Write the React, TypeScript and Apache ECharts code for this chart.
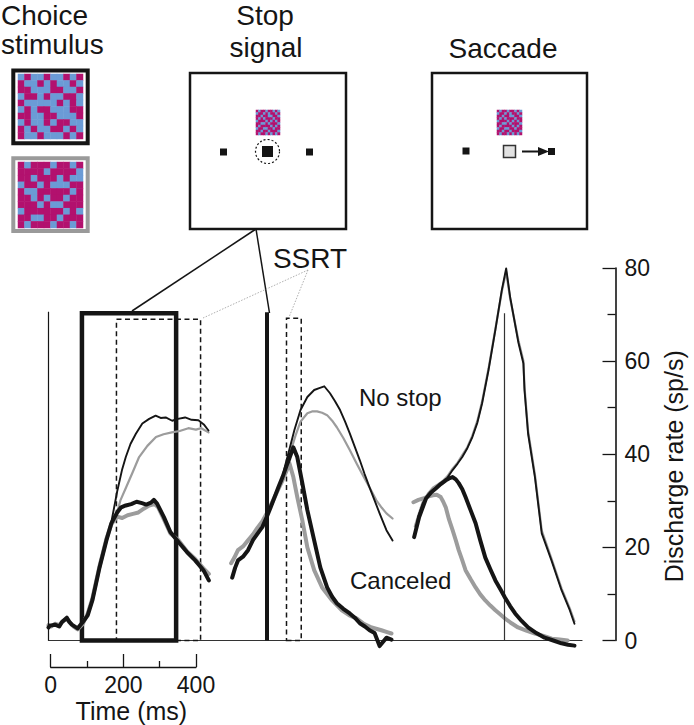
import React, { useEffect, useRef } from "react";
import * as echarts from "echarts";

// ---------------- data ----------------
// Rate axis (sp/s)
const RATE_MIN = 0;
const RATE_MAX = 80;
const RATE_STEP = 20;
// Time scale bar (ms)
const SCALE_MIN = 0;
const SCALE_MAX = 400;
const SCALE_STEP = 200;

// Alignment events (ms, on a common time line)
const TARGET_ONSET = 0;
const STOP_OFFSET = 607;
const SACCADE_OFFSET = 1269;
const MARKER_TOPS = [70.6, 70.5, 70.3]; // target, stop signal, saccade

// Analysis windows [start ms, end ms, top rate]
const WINDOW_EARLY = [93, 355, 70.3];
const WINDOW_LATE = [189, 423, 69.0];
const WINDOW_SSRT = [55, 96, 69.2]; // relative to stop signal

// ---- target-aligned curves [ms, sp/s]
const cancelTargetBlack = [
  [0, 2.8], [4, 3.2], [18, 3.4], [30, 3.0], [37, 3.9], [44, 4.4], [51, 4.9], [58, 4.0], [65, 3.4],
  [81, 2.6], [95, 3.9], [109, 5.4], [122, 8.6], [142, 15.7], [161, 21.5], [175, 25.2], [191, 27.5],
  [202, 28.6], [215, 29.0], [230, 29.3], [245, 29.8], [260, 29.5], [272, 29.2], [285, 29.6],
  [293, 30.2], [302, 29.4], [321, 26.5], [339, 23.3], [362, 21.1], [385, 19.0], [408, 17.2],
  [431, 15.1], [446, 12.9],
];
const cancelTargetGray = [
  [0, 3.3], [8, 3.0], [18, 3.6], [30, 3.3], [40, 4.2], [51, 4.6], [60, 3.8], [70, 3.0], [81, 2.4],
  [95, 3.5], [109, 5.8], [122, 9.0], [142, 16.0], [161, 21.8], [175, 25.0], [191, 26.6], [205, 26.3],
  [220, 26.9], [235, 27.2], [250, 27.5], [265, 28.3], [280, 29.0], [295, 29.3], [305, 28.6],
  [321, 26.0], [339, 23.0], [362, 21.5], [385, 19.2], [408, 17.5], [431, 15.5], [446, 14.3],
];
const noStopTargetBlack = [
  [142, 15.7], [161, 21.5], [175, 25.5], [191, 32.0], [205, 36.8], [215, 39.4], [228, 42.2],
  [243, 44.4], [261, 46.6], [280, 47.6], [298, 48.3], [312, 47.8], [326, 47.9], [344, 47.2],
  [360, 47.6], [380, 47.9], [398, 47.4], [417, 47.3], [432, 46.4], [445, 45.1],
];
const noStopTargetGray = [
  [175, 25.2], [191, 27.5], [200, 30.1], [216, 32.9], [235, 36.3], [252, 39.4], [275, 41.8],
  [299, 43.7], [320, 44.3], [343, 44.7], [365, 45.0], [389, 45.6], [410, 45.3], [425, 45.6],
  [445, 44.7],
];

// ---- stop-signal-aligned curves [ms from stop signal, sp/s]
const cancelStopBlack = [
  [-96, 13.5], [-88, 15.6], [-80, 17.2], [-66, 18.0], [-52, 19.4], [-38, 21.6], [-25, 23.0],
  [-12, 24.4], [0, 26.5], [11, 28.6], [22, 30.8], [33, 33.0], [44, 35.1], [55, 37.5], [63, 39.1],
  [74, 41.5], [85, 39.4], [99, 33.8], [113, 28.0], [132, 21.5], [149, 15.7], [168, 11.4],
  [182, 9.4], [195, 8.0], [213, 6.8], [231, 5.8], [245, 4.9], [259, 3.7], [273, 3.0], [286, 2.2],
  [300, 1.6], [314, -1.2], [333, 0.6], [347, 0.2],
];
const cancelStopGray = [
  [-99, 16.6], [-90, 17.8], [-80, 19.4], [-66, 20.2], [-52, 21.5], [-38, 22.8], [-25, 24.3],
  [-12, 25.6], [0, 27.3], [11, 29.0], [22, 30.8], [33, 32.6], [44, 34.4], [58, 37.0], [63, 38.1],
  [74, 35.1], [85, 30.8], [99, 25.8], [113, 20.0], [132, 15.1], [154, 11.4], [182, 8.6],
  [209, 6.5], [230, 5.4], [251, 4.7], [270, 3.6], [292, 2.8], [319, 2.2], [335, 1.8], [347, 1.5],
];
const noStopStopBlack = [
  [22, 30.8], [33, 33.0], [44, 35.1], [50, 37.2], [63, 41.0], [77, 45.2], [94, 49.5], [113, 52.3],
  [132, 53.8], [146, 54.2], [160, 54.6], [176, 53.1], [190, 51.4], [204, 49.5], [218, 47.0],
  [231, 44.5], [245, 41.6], [259, 38.7], [272, 35.8], [286, 32.9], [300, 30.1], [314, 27.3],
  [333, 23.7], [350, 21.5],
];
const noStopStopGray = [
  [33, 33.0], [44, 35.1], [58, 38.0], [68, 41.0], [80, 44.0], [94, 47.0], [113, 48.8], [126, 49.2],
  [140, 49.2], [154, 48.9], [168, 48.4], [182, 47.2], [195, 45.8], [213, 43.5], [231, 40.9],
  [250, 38.0], [270, 35.1], [288, 32.6], [305, 30.1], [320, 28.5], [333, 27.3], [350, 26.2],
];

// ---- saccade-aligned curves [ms from saccade, sp/s]
const noStopSaccBlack = [
  [-250, 23.0], [-246, 24.4], [-240, 26.8], [-228, 29.4], [-214, 31.2], [-200, 32.3], [-186, 33.0],
  [-173, 33.7], [-159, 35.0], [-145, 36.6], [-131, 38.0], [-118, 39.4], [-104, 41.3], [-90, 43.7],
  [-76, 46.8], [-63, 50.9], [-45, 58.1], [-26, 66.7], [-8, 75.3], [4, 79.9], [15, 73.8],
  [38, 64.0], [52, 59.5], [55, 53.8], [65, 44.4], [84, 35.1], [103, 23.0], [130, 17.2],
  [158, 10.8], [181, 6.5], [194, 3.6],
];
const noStopSaccGray = [
  [-250, 24.5], [-240, 27.0], [-228, 29.8], [-214, 31.5], [-200, 32.8], [-186, 33.5], [-173, 34.2],
  [-159, 35.3], [-145, 36.9], [-131, 38.2], [-118, 39.8], [-104, 41.5], [-90, 44.0], [-76, 47.2],
  [-63, 51.3], [-45, 58.4], [-26, 66.9], [-8, 75.0], [4, 79.2], [15, 73.5], [38, 64.5],
  [52, 60.0], [55, 54.5], [65, 45.0], [84, 35.6], [103, 23.6], [130, 17.6], [158, 11.2],
  [181, 6.9], [194, 4.1],
];
const cancelSaccBlack = [
  [-252, 22.2], [-238, 26.5], [-219, 30.5], [-205, 31.8], [-191, 32.7], [-178, 33.6], [-164, 34.4],
  [-155, 34.8], [-145, 35.1], [-136, 34.6], [-128, 33.8], [-118, 32.5], [-109, 30.8], [-95, 28.0],
  [-81, 25.2], [-68, 21.5], [-54, 17.8], [-40, 15.3], [-26, 12.9], [-12, 11.0], [1, 9.2],
  [15, 7.4], [29, 5.8], [47, 4.2], [65, 2.8], [88, 1.6], [111, 0.6], [135, 0.0], [158, -0.6],
  [176, -0.9], [194, -1.1],
];
const cancelSaccGray = [
  [-254, 29.7], [-240, 30.2], [-227, 30.5], [-214, 30.9], [-200, 31.2], [-189, 31.3], [-178, 30.8],
  [-171, 29.8], [-164, 28.6], [-155, 26.0], [-145, 23.7], [-136, 21.5], [-128, 19.4], [-118, 17.2],
  [-109, 15.1], [-95, 13.2], [-81, 11.4], [-68, 9.9], [-54, 8.6], [-40, 7.5], [-26, 6.5],
  [-12, 5.6], [1, 4.7], [19, 3.7], [37, 2.8], [60, 2.1], [84, 1.5], [108, 1.0], [131, 0.4],
  [153, 0.2], [175, 0.0],
];

// ---- stimulus patterns (1 = magenta, 0 = blue)
const STIM_A = [
  "0100100101",
  "1001010010",
  "1100011001",
  "0110100110",
  "1000001010",
  "0101100011",
  "1100110001",
  "0100101100",
  "1010011010",
  "1001000101",
];
const STIM_B = [
  "1011101101",
  "1111011110",
  "1101110100",
  "0110100011",
  "1001111101",
  "1101011011",
  "1110100111",
  "0111111010",
  "1100110111",
  "1011101101",
];
const STIM_SMALL = [
  "1011011010",
  "0110101101",
  "1101100110",
  "1010111011",
  "0111010101",
  "1100101110",
  "1011110101",
  "0110011011",
  "1101101110",
  "1011010101",
];

// ---------------- styles ----------------
const FONT = "'Liberation Sans', Arial, Helvetica, sans-serif";
const BLACK = "#151515";
const GRAY = "#9c9c9c";
const MAGENTA = "#b2116e";
const BLUE = "#6b9bd6";

const shift = (pts: number[][], off: number) => pts.map(([t, r]) => [t + off, r]);

const curve = (pts: number[][], off: number, color: string, width: number, z: number) => ({
  type: "line",
  xAxisIndex: 0,
  yAxisIndex: 0,
  data: shift(pts, off),
  symbol: "none",
  showSymbol: false,
  clip: false,
  silent: true,
  z,
  lineStyle: { color, width, join: "round", cap: "round" },
});

const patternData = (rows: string[]) =>
  rows.flatMap((row, y) => row.split("").map((c, x) => [x, y, Number(c)]));

const txt = (text: string, x: number, y: number, size: number, align = "center") => ({
  type: "text",
  x,
  y,
  silent: true,
  style: {
    text,
    fill: BLACK,
    fontSize: size,
    fontFamily: FONT,
    align,
    verticalAlign: "middle",
    textAlign: align,
    textVerticalAlign: "middle",
  },
});

const rect = (x: number, y: number, w: number, h: number, style: any) => ({
  type: "rect",
  silent: true,
  shape: { x, y, width: w, height: h },
  style,
});

const line = (x1: number, y1: number, x2: number, y2: number, style: any) => ({
  type: "line",
  silent: true,
  shape: { x1, y1, x2, y2 },
  style,
});

export default function App() {
  const ref = useRef<HTMLDivElement>(null);

  useEffect(() => {
    if (!ref.current) return;
    const chart = echarts.init(ref.current, null, { renderer: "svg" });

    const stimGrids = [
      { rows: STIM_A, left: 18, top: 74, w: 65, h: 65 },
      { rows: STIM_B, left: 18, top: 162, w: 65, h: 66 },
      { rows: STIM_SMALL, left: 256, top: 110, w: 24, h: 25 },
      { rows: STIM_SMALL, left: 497, top: 110, w: 25, h: 25 },
    ];
    const cells = (rows: string[]) => rows[0].split("").map((_, i) => String(i));

    const dashedArea = { color: "rgba(0,0,0,0)", borderColor: BLACK, borderWidth: 1.5, borderType: [5, 3.5] };

    const markerSeries = {
      type: "line",
      xAxisIndex: 0,
      yAxisIndex: 0,
      data: [],
      silent: true,
      z: 6,
      markLine: {
        silent: true,
        symbol: ["none", "none"],
        label: { show: false },
        data: [
          [
            { coord: [TARGET_ONSET, 0], lineStyle: { color: BLACK, width: 1.2, type: "solid" } },
            { coord: [TARGET_ONSET, MARKER_TOPS[0]] },
          ],
          [
            { coord: [STOP_OFFSET, 0], lineStyle: { color: BLACK, width: 4, type: "solid" } },
            { coord: [STOP_OFFSET, MARKER_TOPS[1]] },
          ],
          [
            { coord: [SACCADE_OFFSET, 0], lineStyle: { color: "#333", width: 1.2, type: "solid" } },
            { coord: [SACCADE_OFFSET, MARKER_TOPS[2]] },
          ],
        ],
      },
      markArea: {
        silent: true,
        label: { show: false },
        data: [
          [
            {
              coord: [WINDOW_EARLY[0], 0],
              itemStyle: { color: "rgba(0,0,0,0)", borderColor: BLACK, borderWidth: 4.5, borderType: "solid" },
            },
            { coord: [WINDOW_EARLY[1], WINDOW_EARLY[2]] },
          ],
          [
            { coord: [WINDOW_LATE[0], 0], itemStyle: dashedArea },
            { coord: [WINDOW_LATE[1], WINDOW_LATE[2]] },
          ],
          [
            { coord: [STOP_OFFSET + WINDOW_SSRT[0], 0], itemStyle: dashedArea },
            { coord: [STOP_OFFSET + WINDOW_SSRT[1], WINDOW_SSRT[2]] },
          ],
        ],
      },
    };

    const lineSeries = [
      curve(noStopTargetGray, TARGET_ONSET, GRAY, 2.2, 2),
      curve(noStopStopGray, STOP_OFFSET, GRAY, 2.2, 2),
      curve(noStopSaccGray, SACCADE_OFFSET, GRAY, 2.2, 2),
      curve(noStopTargetBlack, TARGET_ONSET, BLACK, 1.9, 3),
      curve(noStopStopBlack, STOP_OFFSET, BLACK, 1.9, 3),
      curve(noStopSaccBlack, SACCADE_OFFSET, BLACK, 1.9, 3),
      curve(cancelTargetGray, TARGET_ONSET, GRAY, 4, 4),
      curve(cancelStopGray, STOP_OFFSET, GRAY, 4, 4),
      curve(cancelSaccGray, SACCADE_OFFSET, GRAY, 4, 4),
      curve(cancelTargetBlack, TARGET_ONSET, BLACK, 4, 5),
      curve(cancelStopBlack, STOP_OFFSET, BLACK, 4, 5),
      curve(cancelSaccBlack, SACCADE_OFFSET, BLACK, 4, 5),
      markerSeries,
    ];

    const heatSeries = stimGrids.map((g, i) => ({
      type: "heatmap",
      xAxisIndex: i + 2,
      yAxisIndex: i + 2,
      data: patternData(g.rows),
      silent: true,
      itemStyle: { borderWidth: 0 },
      emphasis: { disabled: true },
    }));

    const firstHeat = lineSeries.length;

    const option: any = {
      animation: false,
      backgroundColor: "#ffffff",
      textStyle: { fontFamily: FONT },
      grid: [
        { left: 48.5, top: 268, width: 539, height: 372.5 },
        { left: 50.7, top: 620, width: 145.3, height: 47 },
        ...stimGrids.map((g) => ({ left: g.left, top: g.top, width: g.w, height: g.h })),
      ],
      xAxis: [
        {
          type: "value",
          gridIndex: 0,
          min: 0,
          max: 1484,
          axisLine: { show: true, onZero: false, lineStyle: { color: "#333", width: 1.2 } },
          axisTick: { show: false },
          axisLabel: { show: false },
          splitLine: { show: false },
        },
        {
          type: "value",
          gridIndex: 1,
          min: SCALE_MIN,
          max: SCALE_MAX,
          interval: SCALE_STEP,
          axisLine: { show: true, onZero: false, lineStyle: { color: BLACK, width: 1.3 } },
          axisTick: { show: true, inside: true, length: 13, lineStyle: { color: BLACK, width: 1.3 } },
          minorTick: { show: true, splitNumber: 2, length: 6, lineStyle: { color: BLACK, width: 1.3 } },
          axisLabel: { color: BLACK, fontSize: 23, fontFamily: FONT, margin: 6 },
          splitLine: { show: false },
          name: "Time (ms)",
          nameLocation: "middle",
          nameGap: 31,
          nameTextStyle: { color: BLACK, fontSize: 25, fontFamily: FONT, padding: [0, 0, 0, 16] },
        },
        ...stimGrids.map((g, i) => ({
          type: "category",
          gridIndex: i + 2,
          data: cells(g.rows),
          show: false,
        })),
      ],
      yAxis: [
        {
          type: "value",
          gridIndex: 0,
          position: "right",
          offset: 33.5,
          min: RATE_MIN,
          max: RATE_MAX,
          interval: RATE_STEP,
          axisLine: { show: true, onZero: false, lineStyle: { color: BLACK, width: 1.6 } },
          axisTick: { show: true, inside: true, length: 13, lineStyle: { color: BLACK, width: 1.3 } },
          minorTick: { show: true, splitNumber: 2, length: 8, lineStyle: { color: BLACK, width: 1.3 } },
          axisLabel: { color: BLACK, fontSize: 23, fontFamily: FONT, margin: 9 },
          splitLine: { show: false },
          name: "Discharge rate (sp/s)",
          nameLocation: "middle",
          nameGap: 44,
          nameTextStyle: { color: BLACK, fontSize: 25, fontFamily: FONT, padding: [0, 24, 0, 0] },
        },
        { type: "value", gridIndex: 1, show: false },
        ...stimGrids.map((g, i) => ({
          type: "category",
          gridIndex: i + 2,
          data: cells(g.rows),
          inverse: true,
          show: false,
        })),
      ],
      visualMap: [
        {
          type: "piecewise",
          show: false,
          dimension: 2,
          seriesIndex: stimGrids.map((_, i) => firstHeat + i),
          pieces: [
            { value: 0, color: BLUE },
            { value: 1, color: MAGENTA },
          ],
        },
      ],
      graphic: [
        // titles
        txt("Choice", 1, 15, 28, "left"),
        txt("stimulus", 1, 44, 28, "left"),
        txt("Stop", 265, 15, 28),
        txt("signal", 266, 47, 28),
        txt("Saccade", 503, 48, 28),
        // choice stimulus frames
        rect(13.3, 70.5, 74.4, 72.8, { fill: "none", stroke: BLACK, lineWidth: 4 }),
        rect(13.3, 158.3, 74.4, 72.7, { fill: "none", stroke: "#9a9a9a", lineWidth: 4 }),
        // stop-signal display
        rect(190, 73, 156, 156, { fill: "none", stroke: BLACK, lineWidth: 2.5 }),
        rect(220, 148.5, 7, 7, { fill: BLACK }),
        rect(306, 148.5, 7, 7, { fill: BLACK }),
        rect(262, 146, 11, 11, { fill: BLACK }),
        {
          type: "circle",
          silent: true,
          shape: { cx: 267.5, cy: 151.5, r: 12 },
          style: { fill: "none", stroke: BLACK, lineWidth: 1.2, lineDash: [2, 2] },
        },
        // saccade display
        rect(432, 73, 155, 156, { fill: "none", stroke: BLACK, lineWidth: 2.5 }),
        rect(462.5, 147.5, 7, 7, { fill: BLACK }),
        rect(503.5, 145.5, 12, 12, { fill: "#e2e2e2", stroke: "#333", lineWidth: 1.5 }),
        line(522, 151.5, 541, 151.5, { stroke: BLACK, lineWidth: 2 }),
        {
          type: "polygon",
          silent: true,
          shape: { points: [[538, 147], [549, 151.5], [538, 156]] },
          style: { fill: BLACK },
        },
        rect(548, 148, 7, 7, { fill: BLACK }),
        // connectors from stop display to plot
        line(132, 311, 256, 229, { stroke: BLACK, lineWidth: 1.5 }),
        line(256, 229, 269.5, 313, { stroke: BLACK, lineWidth: 1.5 }),
        // SSRT leaders
        line(308, 270, 203, 318, { stroke: "#9a9a9a", lineWidth: 0.8, lineDash: [1.5, 1.5] }),
        line(308, 270, 289.5, 316, { stroke: "#9a9a9a", lineWidth: 0.8, lineDash: [1.5, 1.5] }),
        txt("SSRT", 310, 258, 28),
        txt("No stop", 359, 397, 24, "left"),
        txt("Canceled", 350, 580, 24, "left"),
      ],
      series: [...lineSeries, ...heatSeries],
    };

    chart.setOption(option);
    return () => chart.dispose();
  }, []);

  return (
    <div
      ref={ref}
      style={{ position: "absolute", left: 0, top: 0, width: 694, height: 725, background: "#fff" }}
    />
  );
}
